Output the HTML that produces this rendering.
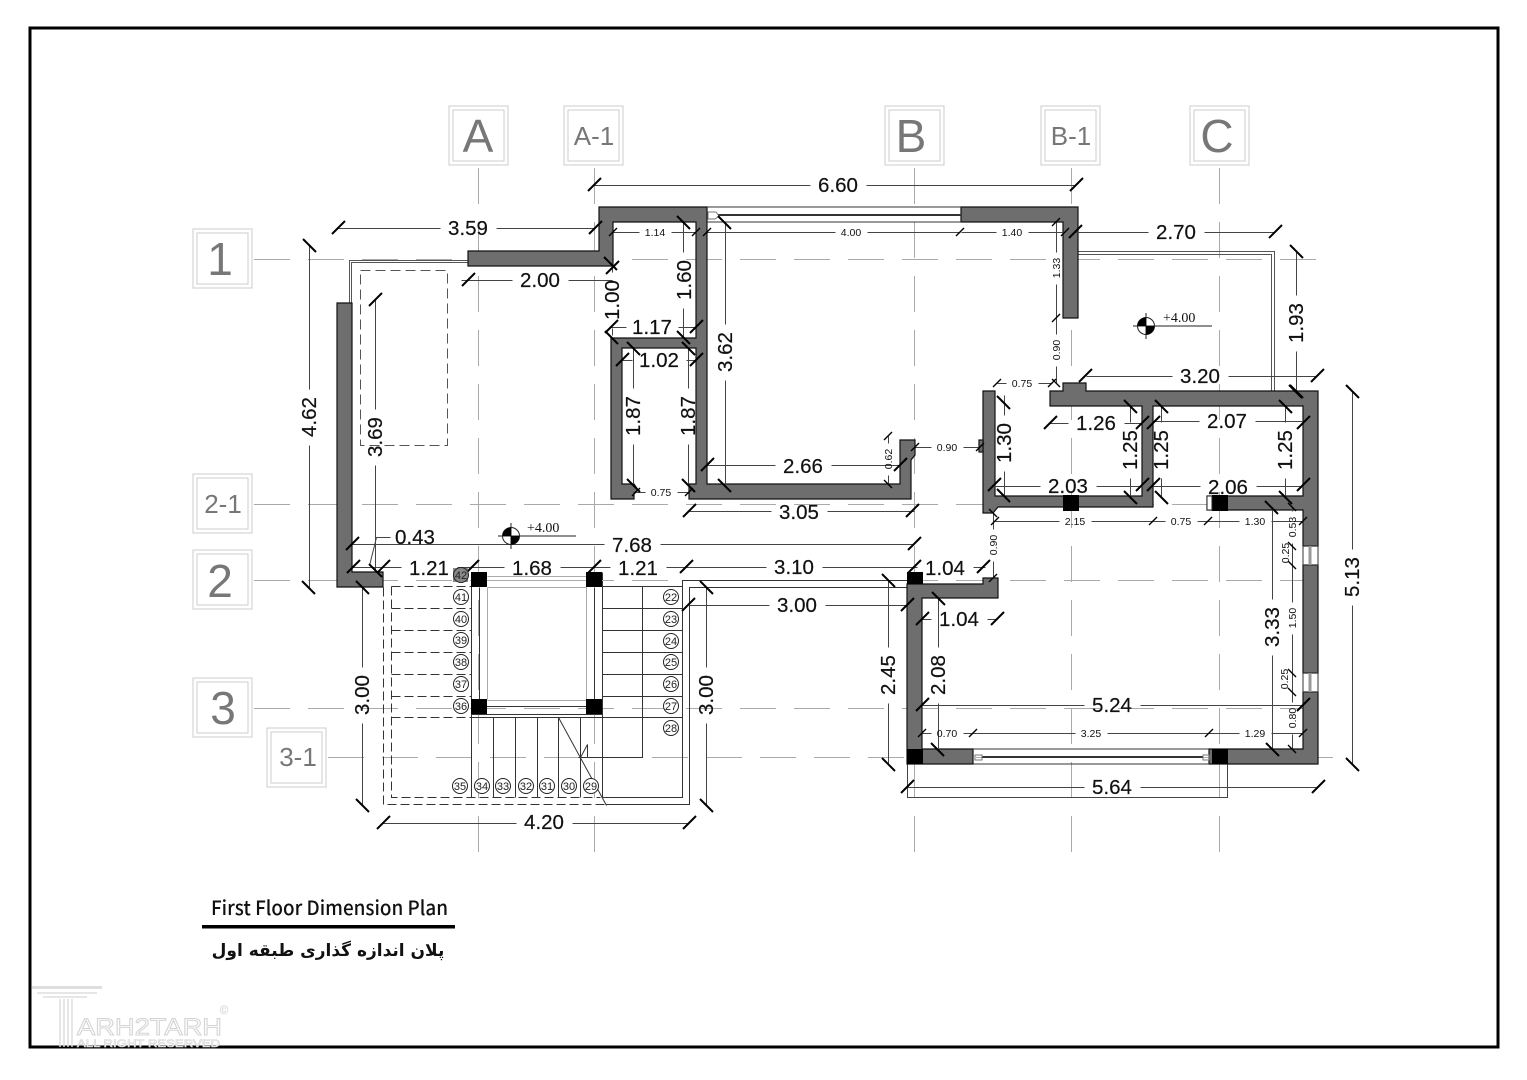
<!DOCTYPE html>
<html><head><meta charset="utf-8"><title>First Floor Dimension Plan</title>
<style>
html,body{margin:0;padding:0;background:#fff}
svg{display:block}
text{font-family:"Liberation Sans",sans-serif;fill:#111}
.b{font-size:20.5px;text-anchor:middle;stroke:#111;stroke-width:.2}
.s{font-size:10.5px;text-anchor:middle}
.n{font-size:11px;text-anchor:middle;fill:#222}
.ax{text-anchor:middle;fill:#777}
.wall{fill:#6e6e6e;stroke:#111;stroke-width:1.2}
.box{fill:#fff;stroke:#ccc;stroke-width:1}
</style></head><body>
<svg width="1527" height="1080" viewBox="0 0 1527 1080" xmlns="http://www.w3.org/2000/svg">
<rect width="1527" height="1080" fill="#fff"/>
<rect x="30" y="28" width="1468" height="1019" fill="none" stroke="#000" stroke-width="3"/>

<!-- grid -->
<path d="M254 259.500H1333M254 504.500H1333M254 580.500H1333M254 708.500H1333M328 757.500H1333M478.500 168V860M594.500 168V860M914.500 168V860M1071.500 168V860M1219.500 168V860" fill="none" stroke="#aaa" stroke-width="1" stroke-dasharray="36 18"/>

<!-- axis boxes -->
<g>
<rect class="box" x="449" y="106" width="59" height="59"/><rect class="box" x="453" y="110" width="51" height="51"/>
<rect class="box" x="564" y="106" width="59" height="59"/><rect class="box" x="568" y="110" width="51" height="51"/>
<rect class="box" x="885" y="106" width="59" height="59"/><rect class="box" x="889" y="110" width="51" height="51"/>
<rect class="box" x="1041" y="106" width="59" height="59"/><rect class="box" x="1045" y="110" width="51" height="51"/>
<rect class="box" x="1190" y="106" width="59" height="59"/><rect class="box" x="1194" y="110" width="51" height="51"/>
<rect class="box" x="193" y="229" width="59" height="59"/><rect class="box" x="197" y="233" width="51" height="51"/>
<rect class="box" x="193" y="474" width="59" height="59"/><rect class="box" x="197" y="478" width="51" height="51"/>
<rect class="box" x="193" y="550" width="59" height="59"/><rect class="box" x="197" y="554" width="51" height="51"/>
<rect class="box" x="193" y="678" width="59" height="59"/><rect class="box" x="197" y="682" width="51" height="51"/>
<rect class="box" x="267" y="728" width="59" height="59"/><rect class="box" x="271" y="732" width="51" height="51"/>
</g>
<g class="ax">
<text class="ax" x="478" y="152" font-size="46">A</text>
<text class="ax" x="594" y="145" font-size="26">A-1</text>
<text class="ax" x="911" y="152" font-size="46">B</text>
<text class="ax" x="1071" y="145" font-size="26">B-1</text>
<text class="ax" x="1217" y="152" font-size="46">C</text>
<text class="ax" x="220" y="275" font-size="46">1</text>
<text class="ax" x="223" y="513" font-size="26">2-1</text>
<text class="ax" x="220" y="597" font-size="46">2</text>
<text class="ax" x="223" y="724" font-size="46">3</text>
<text class="ax" x="298" y="766" font-size="26">3-1</text>
</g>

<!-- balcony rails -->
<g transform="translate(.5 .5)">
<path d="M349 303V260H468M351 303V262H468" fill="none" stroke="#555" stroke-width="1"/>
<path d="M1078 251H1274V391M1078 254H1271V391" fill="none" stroke="#555" stroke-width="1"/>
<path d="M360 270H447V445H360Z" fill="none" stroke="#555" stroke-width="1" stroke-dasharray="10 5"/>
</g>

<!-- stairs -->
<g fill="none" stroke="#333" stroke-width="1" transform="translate(.5 .5)">
<path d="M383 587V804H605" stroke-dasharray="9 4"/>
<path d="M605 804H689V587H907M682 586V580H907" />
<path d="M682 580V797H602"/>
<path d="M391 586V797H600" stroke-dasharray="9 4"/>
<path d="M391 586H471M391 608H471M391 630H471M391 652H471M391 674H471M391 696H471M391 717H471" stroke-dasharray="9 4"/>
<path d="M602 586H682M602 608H682M602 630H682M602 652H682M602 674H682M602 696H682M471 717H682"/>
<path d="M471 717V797M493 717V797M515 717V797M537 717V797M558 717V797M580 717V797M602 717V797"/>
<path d="M471 572V717M602 572V717M479 587V699M594 587V699M471 714H602M479 706H594" />
<path d="M487 587V699M586 587V699M487 587H586M487 700H586M487 576H586M487 580H605" stroke="#aaa"/>
<path d="M558 717L606 805M578 757H642V586M580 757L587 744V757"/>
</g>
<g fill="#000">
<rect x="471" y="572" width="16" height="15"/><rect x="586" y="572" width="16" height="15"/>
<rect x="471" y="699" width="16" height="15"/><rect x="586" y="699" width="16" height="15"/>
</g>

<!-- walls -->
<path class="wall" d="M468 251H599V207H707V484H900V440H915V455L911 460V499H689V484H696V348H622V484H634L638 490L634 493V499H611V338H696V222H613V266H468Z"/>
<path class="wall" d="M961 207H1078V318H1063V222H961Z"/>
<path class="wall" d="M337 303H352V572H383V587H337Z"/>
<path class="wall" d="M1050 391H1063V383H1086V391H1318V546H1303V510H1207V496H1303V406H1153V507H998L993 513H983V391H995V496H1142V406H1050Z"/>
<rect class="wall" x="979" y="440" width="4" height="12"/>
<path class="wall" d="M1303 565H1318V673H1303Z"/>
<path class="wall" d="M907 584H983V578H998V598H922V749H973V764H907Z"/>
<path class="wall" d="M1209 749H1303V692H1318V764H1209Z"/>
<g fill="#000">
<rect x="1063" y="495" width="16" height="16"/><rect x="1212" y="495" width="16" height="16"/>
<rect x="907" y="572" width="16" height="12"/><rect x="907" y="749" width="16" height="15"/><rect x="1212" y="749" width="16" height="15"/>
</g>
<rect x="1207" y="496" width="5" height="14" fill="#fff" stroke="#222"/>

<!-- windows -->
<g fill="none" stroke="#333" stroke-width="1">
<path d="M707 207H961M707 222H961"/>
<path d="M718 215H961" stroke-width="2"/>
<path d="M708 212H716L719 216L715 219H708Z" stroke="#777"/>
<path d="M973 749H1209M973 764H1209"/>
<path d="M982 757H1203" stroke-width="2"/>
<path d="M975 755H982V760H975ZM1203 755H1209V760H1203Z" stroke="#777"/>
<path d="M1303 546H1318M1303 565H1318M1303 673H1318M1303 692H1318M1303 546V565M1318 546V565M1303 673V692M1318 673V692"/>
<path d="M1310 546V565M1310 673V692" stroke="#999" stroke-width="3"/>
</g>

<!-- dimension lines -->
<g fill="none" stroke="#444" stroke-width="1" transform="translate(.5 .5)">
<path d="M594 185H810M866 185H1076"/>
<path d="M338 228H440M496 228H595"/>
<path d="M461 280H512M568 280H612"/>
<path d="M613 232H639M671 232H696M707 232H835M867 232H960M961 232H996M1028 232H1065"/>
<path d="M1075 232H1148M1204 232H1275"/>
<path d="M611 327H626M678 327H696"/>
<path d="M622 360H632M686 360H696"/>
<path d="M707 465H775M831 465H900"/>
<path d="M689 511H771M827 511H914"/>
<path d="M636 492H645M677 492H689"/>
<path d="M915 447H931M963 447H980"/>
<path d="M997 383H1006M1038 383H1052"/>
<path d="M1086 376H1172M1228 376H1317"/>
<path d="M1050 423H1068M1124 423H1142"/>
<path d="M1153 421H1199M1255 421H1303"/>
<path d="M994 486H1040M1096 486H1142"/>
<path d="M1153 486H1200M1256 486H1303"/>
<path d="M995 521H1059M1091 521H1165M1197 521H1239M1271 521H1303"/>
<path d="M352 544H604M660 544H914"/>
<path d="M369 565L376 537H390"/>
<path d="M352 567H401M457 567H504M560 567H610M666 567H766M822 567H917M973 567H985"/>
<path d="M689 605H769M825 605H907"/>
<path d="M922 619H931M987 619H997"/>
<path d="M922 705H1084M1140 705H1303"/>
<path d="M922 733H931M963 733H1075M1107 733H1239M1271 733H1303"/>
<path d="M907 787H1084M1140 787H1318"/>
<path d="M907 764V797H1227V764" />
<path d="M383 823H516M572 823H689"/>
<path d="M309 245V389M309 445V587"/>
<path d="M375 300V409M375 465V570"/>
<path d="M612 268V272M612 328V335"/>
<path d="M683 222V252M683 308V338"/>
<path d="M725 222V324M725 380V485"/>
<path d="M633 348V388M633 444V485"/>
<path d="M688 348V388M688 444V485"/>
<path d="M888 436V443M888 475V484"/>
<path d="M1056 222V252M1056 284V334M1056 366V383"/>
<path d="M1296 251V295M1296 351V391"/>
<path d="M1004 395V415M1004 471V495"/>
<path d="M1130 406V422M1130 478V497M1161 406V422M1161 478V497M1285 406V422M1285 478V497"/>
<path d="M1352 391V549M1352 605V764"/>
<path d="M1292 507V511M1292 543V602M1292 634V702M1292 734V749"/>
<path d="M1272 507V599M1272 655V749"/>
<path d="M993 513V529M993 561V578"/>
<path d="M888 580V647M888 703V764"/>
<path d="M938 598V647M938 703V749"/>
<path d="M362 587V667M362 723V805M706 587V667M706 723V805"/>
</g>

<!-- big ticks -->
<path fill="none" stroke="#000" stroke-width="2" d="
M588 191l13-13M1070 191l13-13M332 234l13-13M589 234l13-13M462 286l13-13M1069 238l13-13M1269 238l13-13
M605 333l13-13M690 333l13-13M616 366l13-13M690 366l13-13M701 471l13-13M894 471l13-13M683 517l13-13M906 517l13-13
M1079 382l13-13M1311 382l13-13M1044 429l13-13M1136 429l13-13M1147 429l13-13M1297 429l13-13
M988 491l13-13M1136 491l13-13M1147 491l13-13M1297 491l13-13
M346 550l13-13M908 550l13-13M347 573l13-13M377 573l13-13M466 573l13-13M588 573l13-13M680 573l13-13M908 573l13-13M977 573l13-13
M682 611l13-13M901 611l13-13M916 625l13-13M991 625l13-13M916 711l13-13M1297 711l13-13M901 793l13-13M1312 793l13-13
M377 829l13-13M683 829l13-13M606 274l13-13M369 306l13-13
M677 216l13 13M604 257l13 13M718 216l13 13M677 331l13 13M605 331l13 13M627 342l13 13M682 342l13 13M627 479l13 13M682 479l13 13M718 479l13 13
M1289 385l13 13M1279 400l13 13M1124 400l13 13M1155 400l13 13M997 396l13 13M997 489l13 13M1124 491l13 13M1155 491l13 13M1279 491l13 13M1265 501l13 13
M932 592l13 13M931 743l13 13M1266 743l13 13M882 574l13 13M882 758l13 13
M1346 385l13 13M1346 758l13 13M303 239l13 13M302 581l13 13M369 564l13 13M356 581l13 13M356 799l13 13M700 581l13 13M700 799l13 13M1290 245l13 13M1290 385l13 13
"/>
<!-- small ticks -->
<path fill="none" stroke="#000" stroke-width="1.400" d="
M609 236l8-8M692 236l8-8M703 236l8-8M956 236l8-8M1061 236l8-8M632 496l8-8M685 496l8-8M911 451l8-8M976 451l8-8
M993 387l8-8M1048 387l8-8M991 525l8-8M1149 525l8-8M1204 525l8-8M1299 525l8-8M989 582l8-8
M918 737l8-8M969 737l8-8M1205 737l8-8M1299 737l8-8M884 440l8-8M1052 226l8-8M1052 322l8-8
M884 480l8 8M1052 379l8 8M989 509l8 8M1288 503l8 8M1288 542l8 8M1288 561l8 8M1288 669l8 8M1288 688l8 8M1288 745l8 8
"/>

<!-- big labels -->
<g class="b">
<text class="b" x="838" y="192">6.60</text>
<text class="b" x="468" y="235">3.59</text>
<text class="b" x="540" y="287">2.00</text>
<text class="b" x="1176" y="239">2.70</text>
<text class="b" x="652" y="334">1.17</text>
<text class="b" x="659" y="367">1.02</text>
<text class="b" x="803" y="473">2.66</text>
<text class="b" x="799" y="519">3.05</text>
<text class="b" x="1200" y="383">3.20</text>
<text class="b" x="1096" y="430">1.26</text>
<text class="b" x="1227" y="428">2.07</text>
<text class="b" x="1068" y="493">2.03</text>
<text class="b" x="1228" y="494">2.06</text>
<text class="b" x="632" y="552">7.68</text>
<text class="b" x="415" y="544">0.43</text>
<text class="b" x="429" y="575">1.21</text>
<text class="b" x="532" y="575">1.68</text>
<text class="b" x="638" y="575">1.21</text>
<text class="b" x="794" y="574">3.10</text>
<text class="b" x="945" y="575">1.04</text>
<text class="b" x="797" y="612">3.00</text>
<text class="b" x="959" y="626">1.04</text>
<text class="b" x="1112" y="712">5.24</text>
<text class="b" x="1112" y="794">5.64</text>
<text class="b" x="544" y="829">4.20</text>
<text class="b" transform="translate(316 417) rotate(-90)">4.62</text>
<text class="b" transform="translate(382 437) rotate(-90)">3.69</text>
<text class="b" transform="translate(619 300) rotate(-90)">1.00</text>
<text class="b" transform="translate(691 280) rotate(-90)">1.60</text>
<text class="b" transform="translate(732 352) rotate(-90)">3.62</text>
<text class="b" transform="translate(640 416) rotate(-90)">1.87</text>
<text class="b" transform="translate(695 416) rotate(-90)">1.87</text>
<text class="b" transform="translate(1303 323) rotate(-90)">1.93</text>
<text class="b" transform="translate(1011 443) rotate(-90)">1.30</text>
<text class="b" transform="translate(1137 450) rotate(-90)">1.25</text>
<text class="b" transform="translate(1168 450) rotate(-90)">1.25</text>
<text class="b" transform="translate(1292 450) rotate(-90)">1.25</text>
<text class="b" transform="translate(1359 577) rotate(-90)">5.13</text>
<text class="b" transform="translate(1279 627) rotate(-90)">3.33</text>
<text class="b" transform="translate(895 675) rotate(-90)">2.45</text>
<text class="b" transform="translate(945 675) rotate(-90)">2.08</text>
<text class="b" transform="translate(369 695) rotate(-90)">3.00</text>
<text class="b" transform="translate(713 695) rotate(-90)">3.00</text>
</g>
<!-- small labels -->
<g>
<text class="s" x="655" y="236">1.14</text>
<text class="s" x="851" y="236">4.00</text>
<text class="s" x="1012" y="236">1.40</text>
<text class="s" x="661" y="496">0.75</text>
<text class="s" x="947" y="451">0.90</text>
<text class="s" x="1022" y="387">0.75</text>
<text class="s" x="1075" y="525">2.15</text>
<text class="s" x="1181" y="525">0.75</text>
<text class="s" x="1255" y="525">1.30</text>
<text class="s" x="947" y="737">0.70</text>
<text class="s" x="1091" y="737">3.25</text>
<text class="s" x="1255" y="737">1.29</text>
<text class="s" transform="translate(892 459) rotate(-90)">0.62</text>
<text class="s" transform="translate(1060 268) rotate(-90)">1.33</text>
<text class="s" transform="translate(1060 350) rotate(-90)">0.90</text>
<text class="s" transform="translate(997 545) rotate(-90)">0.90</text>
<text class="s" transform="translate(1296 527) rotate(-90)">0.53</text>
<text class="s" transform="translate(1289 553) rotate(-90)">0.25</text>
<text class="s" transform="translate(1296 618) rotate(-90)">1.50</text>
<text class="s" transform="translate(1288 679) rotate(-90)">0.25</text>
<text class="s" transform="translate(1296 718) rotate(-90)">0.80</text>
</g>

<!-- step numbers -->
<rect x="453" y="568" width="15" height="14" fill="#888"/>
<g fill="#fff" stroke="#222" stroke-width="1">
<circle cx="461" cy="575" r="7.500" fill="#888"/><circle cx="461" cy="597" r="7.500"/><circle cx="461" cy="619" r="7.500"/><circle cx="461" cy="640" r="7.500"/><circle cx="461" cy="662" r="7.500"/><circle cx="461" cy="684" r="7.500"/><circle cx="461" cy="706" r="7.500"/>
<circle cx="460" cy="786" r="7.500"/><circle cx="482" cy="786" r="7.500"/><circle cx="503" cy="786" r="7.500"/><circle cx="526" cy="786" r="7.500"/><circle cx="547" cy="786" r="7.500"/><circle cx="569" cy="786" r="7.500"/><circle cx="591" cy="786" r="7.500"/>
<circle cx="671" cy="597" r="7.500"/><circle cx="671" cy="619" r="7.500"/><circle cx="671" cy="641" r="7.500"/><circle cx="671" cy="662" r="7.500"/><circle cx="671" cy="684" r="7.500"/><circle cx="671" cy="706" r="7.500"/><circle cx="671" cy="728" r="7.500"/>
</g>
<g>
<text class="n" x="461" y="579">42</text><text class="n" x="461" y="601">41</text><text class="n" x="461" y="623">40</text><text class="n" x="461" y="644">39</text><text class="n" x="461" y="666">38</text><text class="n" x="461" y="688">37</text><text class="n" x="461" y="710">36</text>
<text class="n" x="460" y="790">35</text><text class="n" x="482" y="790">34</text><text class="n" x="503" y="790">33</text><text class="n" x="526" y="790">32</text><text class="n" x="547" y="790">31</text><text class="n" x="569" y="790">30</text><text class="n" x="591" y="790">29</text>
<text class="n" x="671" y="601">22</text><text class="n" x="671" y="623">23</text><text class="n" x="671" y="645">24</text><text class="n" x="671" y="666">25</text><text class="n" x="671" y="688">26</text><text class="n" x="671" y="710">27</text><text class="n" x="671" y="732">28</text>
</g>

<!-- level marks -->
<g fill="none" stroke="#222" stroke-width="1">
<circle cx="1146" cy="326" r="8.500"/><path d="M1146 313V339M1133 326H1212"/>
<circle cx="511" cy="536" r="8.500"/><path d="M511 523V549M498 536H576"/>
</g>
<path d="M1146 317.500A8.500 8.500 0 0 0 1137.500 326H1146ZM1146 334.500A8.500 8.500 0 0 0 1154.500 326H1146Z" fill="#000"/>
<path d="M511 527.500A8.500 8.500 0 0 0 502.500 536H511ZM511 544.500A8.500 8.500 0 0 0 519.500 536H511Z" fill="#000"/>
<text x="1163" y="322" font-size="14" style='font-family:"Liberation Serif",serif'>+4.00</text>
<text x="527" y="532" font-size="14" style='font-family:"Liberation Serif",serif'>+4.00</text>

<!-- title -->
<text x="211" y="915" font-size="20" font-weight="500" textLength="237" lengthAdjust="spacingAndGlyphs" style='font-family:"Noto Sans CJK SC","Liberation Sans",sans-serif'>First Floor Dimension Plan</text>
<rect x="202" y="925" width="253" height="3.500" fill="#000"/>
<text x="328" y="956" font-size="17" text-anchor="middle" font-weight="bold" direction="rtl" style='font-family:"DejaVu Sans",sans-serif'>پلان اندازه گذاری طبقه اول</text>

<!-- watermark -->
<g fill="none" stroke="#dedede" stroke-width="1.500">
<path d="M32 987.500H102" stroke-width="3"/>
<path d="M37 993H97M43 997H87M60 999V1047M64 999V1047M68 999V1047M72 999V1047"/>
</g>
<text x="224" y="1014" font-size="12" text-anchor="middle" style="fill:#ccc">©</text>
<text x="77" y="1035" font-size="24" textLength="145" lengthAdjust="spacingAndGlyphs" style="fill:#fff" stroke="#d4d4d4" stroke-width="1">ARH2TARH</text>
<text x="77" y="1047" font-size="11" textLength="143" lengthAdjust="spacingAndGlyphs" style="fill:#fff" stroke="#d4d4d4" stroke-width=".6">ALL RIGHT RESERVED</text>
</svg>
</body></html>
